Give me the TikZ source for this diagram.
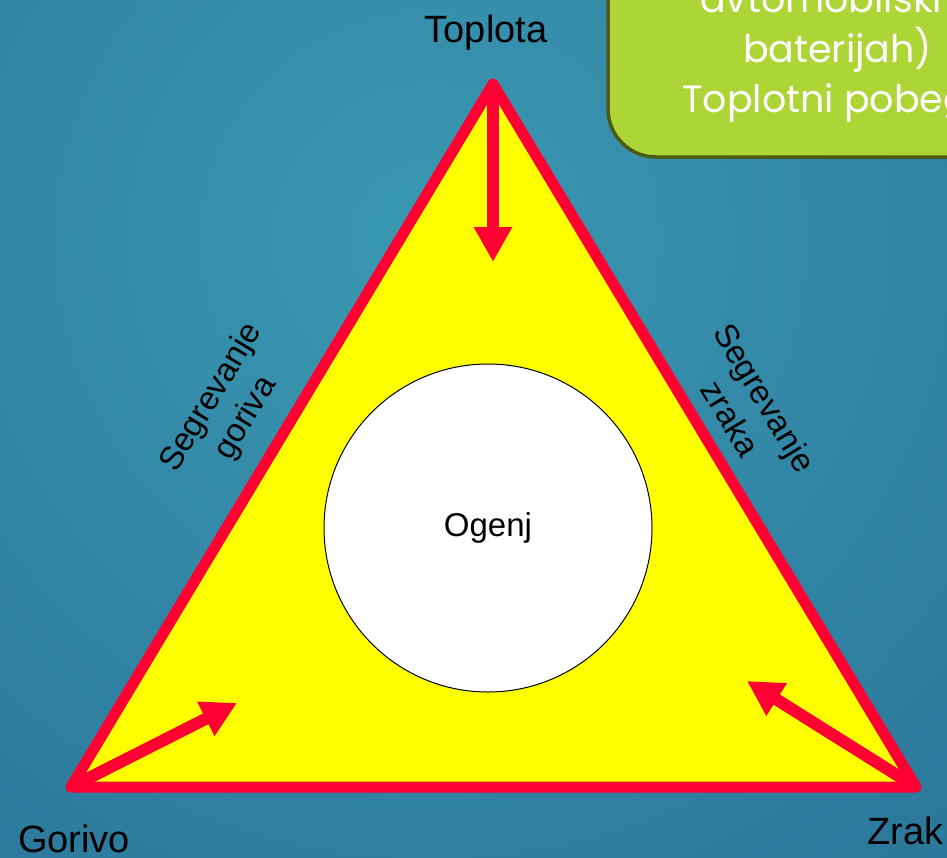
\documentclass[tikz,border=0pt]{standalone}
\usepackage{fontspec}
\setmainfont{Liberation Sans}
\newfontfamily\boxfont{Poppins}
\usetikzlibrary{arrows.meta}
\definecolor{bgin}{HTML}{3A98B2}
\definecolor{bgout}{HTML}{1C5683}
\definecolor{tred}{HTML}{FF0033}
\definecolor{tyel}{HTML}{FFFF00}
\definecolor{boxg}{HTML}{ADD535}
\definecolor{boxb}{HTML}{4B5A14}
\begin{document}
\begin{tikzpicture}[x=1pt,y=-1pt,
  lbl/.style={text=black,font=\fontsize{38}{44}\selectfont,inner sep=0pt},
  sidelbl/.style={text=black,font=\fontsize{33}{40}\selectfont,align=center,inner sep=0pt},
  boxtxt/.style={text=white,font=\boxfont\fontsize{38}{44}\selectfont,anchor=base west,inner sep=0pt},
  arr/.style={draw=tred,line width=12pt,-{Triangle[length=35pt,width=36pt]}}]
\useasboundingbox (0,0) rectangle (947,857);
\clip (0,0) rectangle (947,857);
\shade[inner color=bgin,outer color=bgout] (430,240) circle (1600);
% green box
\draw[draw=boxb,fill=boxg,line width=3.5pt,rounded corners=48pt] (608,-80) rectangle (1010,157);
\node[boxtxt] (b1) at (700,12) {avtomobilski};
\node[boxtxt] (b2) at (743,62) {baterijah)};
\node[boxtxt] (b3) at (682,112) {Toplotni pobeg};
% triangle
\coordinate (T) at (493,84);
\coordinate (G) at (71,787);
\coordinate (Z) at (916,787);
\draw[draw=tred,fill=tyel,line width=11pt,line join=round] (T) -- (G) -- (Z) -- cycle;
\node[circle,draw=black,fill=white,minimum size=328pt,inner sep=0pt,line width=1pt,
      font=\fontsize{33}{38}\selectfont] (fire) at (488,528) {Ogenj};
% arrows
\coordinate (Ttip) at (493,262);
\coordinate (Gtip) at (237,703);
\coordinate (Ztip) at (747,681);
\draw[arr] (T) -- (Ttip);
\draw[arr] (G) -- (Gtip);
\draw[arr] (Z) -- (Ztip);
% labels
\node[lbl,anchor=base] (lt) at (486,42) {Toplota};
\node[lbl,anchor=base west] (lg) at (18,852) {Gorivo};
\node[lbl,anchor=base west] (lz) at (867,844) {Zrak};
\node[sidelbl,rotate=59] (sg) at (229,408) {Segrevanje\\goriva};
\node[sidelbl,rotate=-59] (sz) at (748,408) {Segrevanje\\zraka};
\end{tikzpicture}
\end{document}
